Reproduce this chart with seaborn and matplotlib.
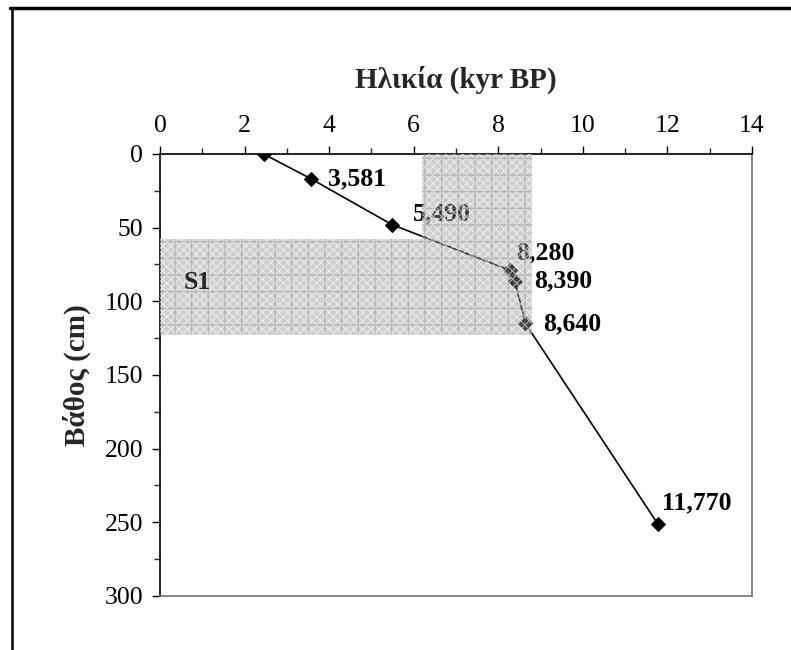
import numpy as np
import pandas as pd
import seaborn as sns
import matplotlib
matplotlib.use('Agg')
from matplotlib import pyplot as plt
from matplotlib.lines import Line2D
from matplotlib.ticker import MultipleLocator

# radiocarbon ages (kyr BP) vs core depth (cm)
age_kyr = [2.45, 3.581, 5.490, 8.280, 8.390, 8.640, 11.770]
depth_cm = [0, 17, 48, 79, 86, 115, 251]
age_labels = ['', '3,581', '5,490', '8,280', '8,390', '8,640', '11,770']

# S1 sapropel zone (shaded)
s1_age_band = [6.2, 8.8]
s1_depth_top = 57.7
s1_depth_bottom = 123
s1_label = 'S1'

# label offsets in points (dx, dy), up is negative depth
label_offsets = [(0, 0), (12, 0), (15, 8), (4, 13), (14, 0), (13, 0), (3, 15)]

df = pd.DataFrame({'age': age_kyr, 'depth': depth_cm})

sns.set_style('ticks')
plt.rcParams['font.family'] = ['Liberation Serif', 'DejaVu Serif']
plt.rcParams['hatch.linewidth'] = 0.9

fig = plt.figure(figsize=(7.91, 6.5), dpi=100)
ax = fig.add_axes([0.2023, 0.0831, 0.9507 - 0.2023, 0.7631 - 0.0831])

sns.lineplot(data=df, x='age', y='depth', sort=False, ax=ax, color='black',
             linewidth=1.2, marker='D', markersize=7.5, markeredgecolor='black',
             zorder=2)

for x, y, lab, off in zip(age_kyr, depth_cm, age_labels, label_offsets):
    if lab:
        ax.annotate(lab, (x, y), xytext=off, textcoords='offset points',
                    ha='left', va='center', fontsize=18.5, fontweight='bold',
                    color='black', zorder=2)

# shaded S1 interval, drawn over the points like the original
# (grey fill with white dotted cross pattern + faint grid on top)
shade = dict(facecolor=(0.55, 0.55, 0.55, 0.42), edgecolor=(1, 1, 1, 0.55),
             hatch='xxxx', linewidth=0, zorder=3)
grid = dict(facecolor='none', edgecolor=(0.5, 0.5, 0.5, 0.35),
            hatch='+', linewidth=0, zorder=3)
for style in (shade, grid):
    ax.fill_betweenx([0, s1_depth_top], s1_age_band[0], s1_age_band[1], **style)
    ax.fill_betweenx([s1_depth_top, s1_depth_bottom], 0, s1_age_band[1], **style)
ax.text(0.55, 87, s1_label, fontsize=18.5, fontweight='bold', va='center',
        ha='left', zorder=4)

ax.set_xlim(0, 14)
ax.set_ylim(300, 0)
ax.xaxis.set_major_locator(MultipleLocator(2))
ax.xaxis.set_minor_locator(MultipleLocator(1))
ax.yaxis.set_major_locator(MultipleLocator(50))
ax.yaxis.set_minor_locator(MultipleLocator(25))
ax.xaxis.tick_top()
ax.xaxis.set_label_position('top')
ax.tick_params(which='major', length=6, width=1, labelsize=18.5, colors='black')
ax.tick_params(which='minor', length=4, width=1)
ax.tick_params(axis='x', which='both', top=True, bottom=False, pad=6)
ax.tick_params(axis='y', which='major', pad=6)

ax.set_xlabel('Ηλικία (kyr BP)', fontsize=21, fontweight='bold', labelpad=20)
ax.set_ylabel('Βάθος (cm)', fontsize=21, fontweight='bold', labelpad=10)

for side in ['top', 'left']:
    ax.spines[side].set_color('black')
    ax.spines[side].set_linewidth(1.2)
for side in ['bottom', 'right']:
    ax.spines[side].set_color('#707070')
    ax.spines[side].set_linewidth(1.2)

# outer chart frame (only top and left edges visible in the crop)
fig.add_artist(Line2D([0.013, 1.0], [0.9877, 0.9877], color='black', linewidth=2.5))
fig.add_artist(Line2D([0.0155, 0.0155], [0.0, 0.9877], color='black', linewidth=1.8))

fig.savefig('out.png', dpi=100)
